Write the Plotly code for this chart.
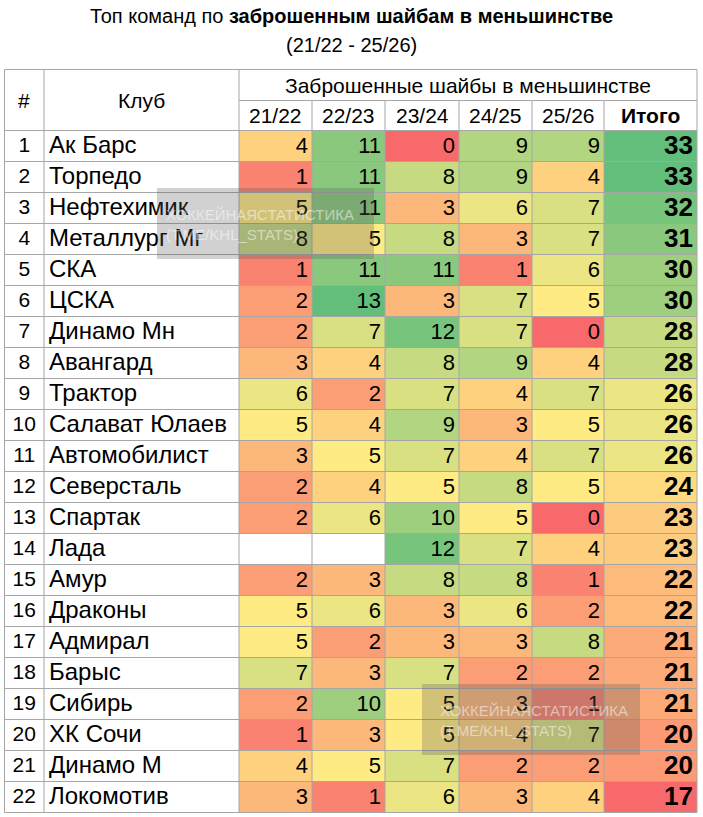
import numpy as np
import plotly.graph_objects as go

# --- données ---
clubs = ["Ак Барс", "Торпедо", "Нефтехимик", "Металлург Мг", "СКА", "ЦСКА",
         "Динамо Мн", "Авангард", "Трактор", "Салават Юлаев", "Автомобилист",
         "Северсталь", "Спартак", "Лада", "Амур", "Драконы", "Адмирал", "Барыс",
         "Сибирь", "ХК Сочи", "Динамо М", "Локомотив"]
seasons = ["21/22", "22/23", "23/24", "24/25", "25/26"]
s2122 = [4, 1, 5, 8, 1, 2, 2, 3, 6, 5, 3, 2, 2, None, 2, 5, 5, 7, 2, 1, 4, 3]
s2223 = [11, 11, 11, 5, 11, 13, 7, 4, 2, 4, 5, 4, 6, None, 3, 6, 2, 3, 10, 3, 5, 1]
s2324 = [0, 8, 3, 8, 11, 3, 12, 8, 7, 9, 7, 5, 10, 12, 8, 3, 3, 7, 5, 5, 7, 6]
s2425 = [9, 9, 6, 3, 1, 7, 7, 9, 4, 3, 4, 8, 5, 7, 8, 6, 3, 2, 3, 4, 2, 3]
s2526 = [9, 4, 7, 7, 6, 5, 0, 4, 7, 5, 7, 5, 0, 4, 1, 2, 8, 2, 1, 7, 2, 4]
totals = [33, 33, 32, 31, 30, 30, 28, 28, 26, 26, 26, 24, 23, 23, 22, 22, 21, 21,
          21, 20, 20, 17]

title_1 = "Топ команд по <b>заброшенным шайбам в меньшинстве</b>"
title_2 = "(21/22 - 25/26)"
group_label = "Заброшенные шайбы в меньшинстве"
watermark = "ХОККЕЙНАЯСТАТИСТИКА<br>(T.ME/KHL_STATS)"

# --- géométrie (pixels) ---
W, H = 703, 817
col_edges = [4.5, 44, 239, 312, 385, 459, 532, 604, 697]
y_top, y_mid, y_head, row_h = 69.5, 100.5, 130.5, 31.0
n = len(clubs)
row_edges = [y_head + i * row_h for i in range(n + 1)]
row_mid = [y_head + (i + 0.5) * row_h + 1 for i in range(n)]
y_bot = row_edges[-1]

FONT = "Liberation Sans Narrow, Arial Narrow, Liberation Sans, sans-serif"
GRID = "#a6a6a6"
RED, YEL, GRN = "#F8696B", "#FFEB84", "#63BE7B"


def scale3(vals):
    """Échelle 3 couleurs type Excel (min / médiane / max)."""
    arr = np.array(vals, dtype=float)
    lo, mid, hi = np.nanmin(arr), np.nanmedian(arr), np.nanmax(arr)
    return lo, hi, [[0, RED], [(mid - lo) / (hi - lo), YEL], [1, GRN]]


season_cols = [s2122, s2223, s2324, s2425, s2526]
z_seasons = [[col[i] for col in season_cols] for i in range(n)]
lo, hi, cs = scale3([v for col in season_cols for v in col if v is not None])
tlo, thi, tcs = scale3(totals)

fig = go.Figure()
fig.add_trace(go.Heatmap(z=z_seasons, x=col_edges[2:8], y=row_edges,
                         zmin=lo, zmax=hi, colorscale=cs, showscale=False,
                         hoverinfo="skip"))
fig.add_trace(go.Heatmap(z=[[t] for t in totals], x=col_edges[7:9], y=row_edges,
                         zmin=tlo, zmax=thi, colorscale=tcs, showscale=False,
                         hoverinfo="skip"))

# rang
fig.add_trace(go.Scatter(x=[(col_edges[0] + col_edges[1]) / 2] * n, y=row_mid,
                         text=[str(i + 1) for i in range(n)], mode="text",
                         textposition="middle center",
                         textfont=dict(family=FONT, size=21, color="black"),
                         hoverinfo="skip"))
# clubs
fig.add_trace(go.Scatter(x=[col_edges[1] + 5] * n, y=row_mid, text=clubs,
                         mode="text", textposition="middle right",
                         textfont=dict(family=FONT, size=24, color="black"),
                         hoverinfo="skip"))
# valeurs par saison
for j, col in enumerate(season_cols):
    fig.add_trace(go.Scatter(x=[col_edges[3 + j] - 4] * n, y=row_mid,
                             text=["" if v is None else str(v) for v in col],
                             mode="text", textposition="middle left",
                             textfont=dict(family=FONT, size=22, color="black"),
                             hoverinfo="skip"))
# total
fig.add_trace(go.Scatter(x=[col_edges[8] - 4] * n, y=row_mid,
                         text=[f"<b>{t}</b>" for t in totals], mode="text",
                         textposition="middle left",
                         textfont=dict(family=FONT, size=26, color="black"),
                         hoverinfo="skip"))

# --- grille ---
shapes = []
line = dict(color=GRID, width=1)
shapes.append(dict(type="rect", x0=col_edges[0], x1=col_edges[-1], y0=y_top,
                   y1=y_bot, line=line, layer="above"))
for x in col_edges[1:3]:
    shapes.append(dict(type="line", x0=x, x1=x, y0=y_top, y1=y_bot, line=line, layer="above"))
for x in col_edges[3:8]:
    shapes.append(dict(type="line", x0=x, x1=x, y0=y_mid, y1=y_bot, line=line, layer="above"))
shapes.append(dict(type="line", x0=col_edges[2], x1=col_edges[-1], y0=y_mid, y1=y_mid,
                   line=line, layer="above"))
for y in row_edges[:-1]:
    shapes.append(dict(type="line", x0=col_edges[0], x1=col_edges[-1], y0=y, y1=y,
                       line=line, layer="above"))

# filigranes
for x0, y0, x1, y1 in [(157, 188, 374, 259), (422, 684, 640, 755)]:
    shapes.append(dict(type="rect", x0=x0, x1=x1, y0=y0, y1=y1, layer="above",
                       fillcolor="rgba(90,90,90,0.28)", line=dict(width=0)))

annotations = [
    dict(x=W / 2, y=16, text=title_1, font=dict(size=20)),
    dict(x=W / 2, y=45, text=title_2, font=dict(size=20)),
    dict(x=(col_edges[0] + col_edges[1]) / 2, y=(y_top + y_head) / 2, text="#",
         font=dict(size=21)),
    dict(x=(col_edges[1] + col_edges[2]) / 2, y=(y_top + y_head) / 2, text="Клуб",
         font=dict(size=21)),
    dict(x=(col_edges[2] + col_edges[-1]) / 2, y=(y_top + y_mid) / 2, text=group_label,
         font=dict(size=21)),
]
for j, s in enumerate(seasons):
    annotations.append(dict(x=(col_edges[2 + j] + col_edges[3 + j]) / 2,
                            y=(y_mid + y_head) / 2, text=s, font=dict(size=21)))
annotations.append(dict(x=(col_edges[7] + col_edges[8]) / 2, y=(y_mid + y_head) / 2,
                        text="<b>Итого</b>", font=dict(size=21)))
for x, y in [(164, 224), (438, 720)]:
    annotations.append(dict(x=x, y=y, text=watermark, xanchor="left", align="left",
                            font=dict(size=15, color="rgba(255,255,255,0.5)")))
for a in annotations:
    a.setdefault("xanchor", "center")
    a.update(xref="x", yref="y", yanchor="middle", showarrow=False)
    a["font"] = dict(family=FONT, color="black", **a["font"]) if "color" not in a["font"] \
        else dict(family=FONT, **a["font"])

fig.update_layout(
    width=W, height=H, margin=dict(l=0, r=0, t=0, b=0),
    paper_bgcolor="white", plot_bgcolor="white", showlegend=False,
    xaxis=dict(range=[0, W], visible=False, fixedrange=True),
    yaxis=dict(range=[H, 0], visible=False, fixedrange=True),
    shapes=shapes, annotations=annotations,
)
# pas de marge du <body> pour garder le cadrage au pixel près
fig.write_html("out.html", config={"displayModeBar": False},
               post_script="document.body.style.margin='0';"
                           "document.body.style.overflow='hidden';")
